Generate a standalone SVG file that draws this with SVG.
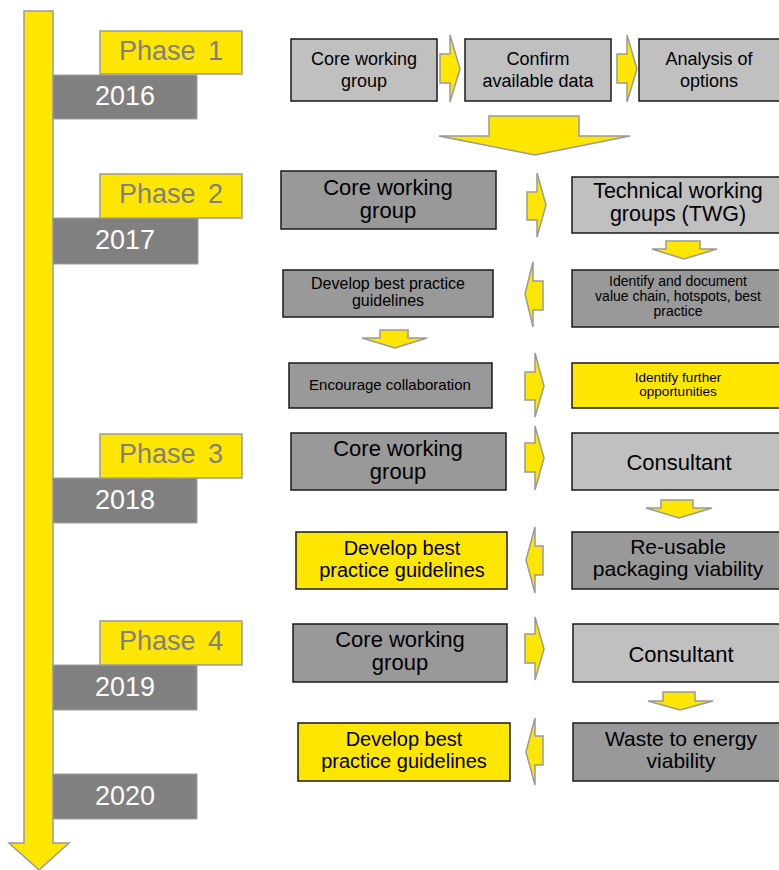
<svg xmlns="http://www.w3.org/2000/svg" width="779" height="870" viewBox="0 0 779 870">
  <style>
    text { font-family: "Liberation Sans", Arial, sans-serif; text-anchor: middle; }
    .phase rect { fill: #FFE600; stroke: #9A9A9A; stroke-width: 1.5; }
    .phase text { fill: #808080; font-size: 27px; word-spacing: 5px; }
    .year rect { fill: #808080; stroke: #A0A0A0; stroke-width: 1; }
    .year text { fill: #FFFFFF; font-size: 27px; }
    .node rect { stroke: #1A1A1A; stroke-width: 1.5; }
    .light rect { fill: #C0C0C0; }
    .dark rect { fill: #999999; }
    .hi rect { fill: #FFE600; }
    .node text { fill: #000000; }
    .arrow { fill: #FFE600; stroke: #9A9A9A; stroke-width: 1.5; stroke-linejoin: miter; }
  </style>

  <!-- timeline arrow -->
  <g id="timeline">
    <polygon class="arrow" points="24,11 53,11 53,843 69,843 39,870 9,843 24,843"/>
  </g>

  <!-- phase labels and years -->
  <g id="year-2016" class="year"><rect x="53" y="75" width="144" height="44"/><text x="125" y="105">2016</text></g>
  <g id="phase-1" class="phase"><rect x="100" y="31" width="142" height="43"/><text x="171" y="60">Phase 1</text></g>

  <g id="year-2017" class="year"><rect x="53" y="218" width="145" height="46"/><text x="125" y="249">2017</text></g>
  <g id="phase-2" class="phase"><rect x="100" y="174" width="142" height="44"/><text x="171" y="203">Phase 2</text></g>

  <g id="year-2018" class="year"><rect x="53" y="478" width="144" height="45"/><text x="125" y="509">2018</text></g>
  <g id="phase-3" class="phase"><rect x="100" y="434" width="142" height="44"/><text x="171" y="463">Phase 3</text></g>

  <g id="year-2019" class="year"><rect x="53" y="665" width="144" height="45"/><text x="125" y="696">2019</text></g>
  <g id="phase-4" class="phase"><rect x="100" y="621" width="142" height="44"/><text x="171" y="650">Phase 4</text></g>

  <g id="year-2020" class="year"><rect x="53" y="774" width="144" height="45"/><text x="125" y="805">2020</text></g>

  <!-- phase 1 nodes -->
  <g id="p1-core" class="node light" font-size="18">
    <rect x="291" y="39" width="146" height="62"/>
    <text x="364" y="65">Core working</text><text x="364" y="87">group</text>
  </g>
  <g id="p1-confirm" class="node light" font-size="18">
    <rect x="465" y="39" width="146" height="62"/>
    <text x="538" y="65">Confirm</text><text x="538" y="87">available data</text>
  </g>
  <g id="p1-analysis" class="node light" font-size="18">
    <rect x="639" y="39" width="141" height="62"/>
    <text x="709" y="65">Analysis of</text><text x="709" y="87">options</text>
  </g>

  <!-- phase 2 nodes -->
  <g id="p2-core" class="node dark" font-size="22">
    <rect x="281" y="171" width="215" height="58"/>
    <text x="388" y="195">Core working</text><text x="388" y="218">group</text>
  </g>
  <g id="p2-twg" class="node light" font-size="21.5">
    <rect x="572" y="177" width="208" height="56"/>
    <text x="678" y="198">Technical working</text><text x="678" y="221">groups (TWG)</text>
  </g>
  <g id="p2-identify" class="node dark" font-size="14">
    <rect x="572" y="270" width="208" height="57"/>
    <text x="678" y="286">Identify and document</text><text x="678" y="301">value chain, hotspots, best</text><text x="678" y="316">practice</text>
  </g>
  <g id="p2-develop" class="node dark" font-size="16">
    <rect x="283" y="270" width="210" height="47"/>
    <text x="388" y="289">Develop best practice</text><text x="388" y="306">guidelines</text>
  </g>
  <g id="p2-encourage" class="node dark" font-size="15">
    <rect x="289" y="363" width="203" height="45"/>
    <text x="390" y="390">Encourage collaboration</text>
  </g>
  <g id="p2-further" class="node hi" font-size="13.5">
    <rect x="572" y="363" width="208" height="45"/>
    <text x="678" y="382">Identify further</text><text x="678" y="396">opportunities</text>
  </g>

  <!-- phase 3 nodes -->
  <g id="p3-core" class="node dark" font-size="22">
    <rect x="291" y="433" width="215" height="57"/>
    <text x="398" y="456">Core working</text><text x="398" y="479">group</text>
  </g>
  <g id="p3-consultant" class="node light" font-size="22">
    <rect x="572" y="433" width="208" height="57"/>
    <text x="679" y="470">Consultant</text>
  </g>
  <g id="p3-reusable" class="node dark" font-size="21">
    <rect x="572" y="532" width="208" height="57"/>
    <text x="678" y="554">Re-usable</text><text x="678" y="576">packaging viability</text>
  </g>
  <g id="p3-develop" class="node hi" font-size="20">
    <rect x="296" y="532" width="211" height="57"/>
    <text x="402" y="555">Develop best</text><text x="402" y="577">practice guidelines</text>
  </g>

  <!-- phase 4 nodes -->
  <g id="p4-core" class="node dark" font-size="22">
    <rect x="293" y="624" width="214" height="58"/>
    <text x="400" y="647">Core working</text><text x="400" y="670">group</text>
  </g>
  <g id="p4-consultant" class="node light" font-size="22">
    <rect x="573" y="624" width="207" height="58"/>
    <text x="681" y="662">Consultant</text>
  </g>
  <g id="p4-waste" class="node dark" font-size="21">
    <rect x="573" y="723" width="207" height="58"/>
    <text x="681" y="746">Waste to energy</text><text x="681" y="768">viability</text>
  </g>
  <g id="p4-develop" class="node hi" font-size="20">
    <rect x="298" y="723" width="212" height="58"/>
    <text x="404" y="746">Develop best</text><text x="404" y="768">practice guidelines</text>
  </g>

  <!-- connectors: block arrows -->
  <g id="connectors">
    <!-- phase 1 -->
    <polygon class="arrow" points="440,54 450,54 450,35 460,69 450,102 450,83 440,83"/>
    <polygon class="arrow" points="617,54 627,54 627,35 637,69 627,102 627,83 617,83"/>
    <polygon class="arrow" points="489,116 579,116 579,136 630,136 535,155 439,136 489,136"/>
    <!-- phase 2 -->
    <polygon class="arrow" points="527,192 537,192 537,173 546,205 537,237 537,220 527,220"/>
    <polygon class="arrow" points="666,241 700,241 700,249 717,249 684,259 652,249 666,249"/>
    <polygon class="arrow" points="543,281 533,281 533,262 525,294 533,327 533,310 543,310"/>
    <polygon class="arrow" points="380,330 408,330 408,338 427,338 395,348 362,338 380,338"/>
    <polygon class="arrow" points="525,372 535,372 535,353 544,386 535,417 535,400 525,400"/>
    <!-- phase 3 -->
    <polygon class="arrow" points="525,443 535,443 535,426 544,458 535,490 535,472 525,472"/>
    <polygon class="arrow" points="661,500 693,500 693,508 712,508 679,518 646,508 661,508"/>
    <polygon class="arrow" points="543,546 535,546 535,527 526,560 535,593 535,575 543,575"/>
    <!-- phase 4 -->
    <polygon class="arrow" points="525,634 535,634 535,617 544,649 535,680 535,663 525,663"/>
    <polygon class="arrow" points="663,692 695,692 695,701 713,701 680,710 648,701 663,701"/>
    <polygon class="arrow" points="543,736 535,736 535,718 526,752 535,785 535,765 543,765"/>
  </g>
</svg>
